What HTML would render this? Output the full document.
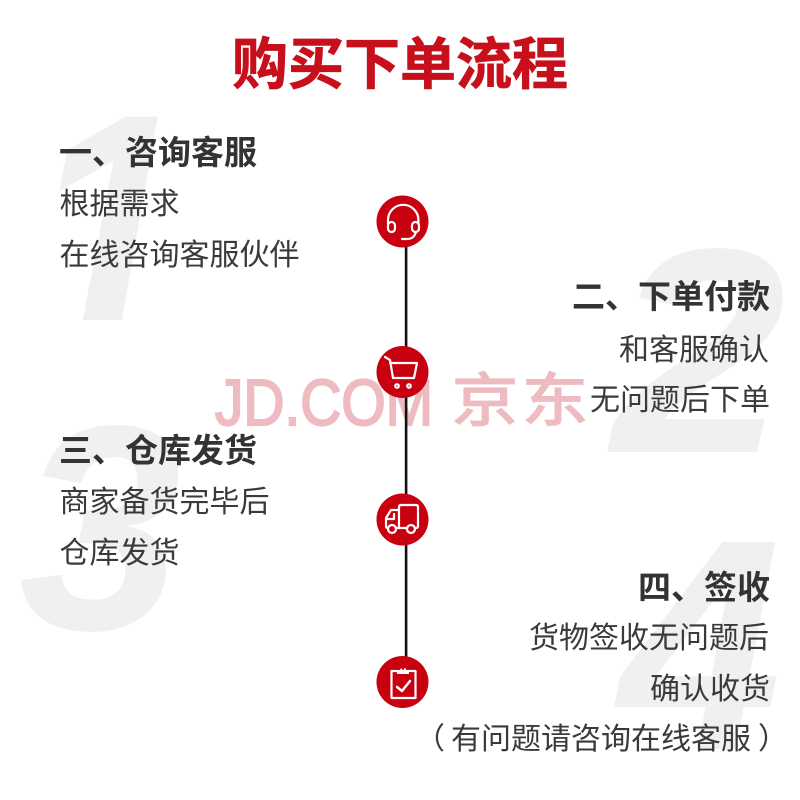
<!DOCTYPE html>
<html>
<head>
<meta charset="utf-8">
<style>
html,body{margin:0;padding:0;background:#fff}
svg{display:block}
text{font-family:"Liberation Sans","Noto Sans CJK SC",sans-serif}
.n{font-family:"Liberation Sans",sans-serif;font-weight:700;font-style:italic;font-size:292px;fill:#eef0f1}
.h{font-size:33px;font-weight:700;fill:#333}
.b{font-size:30px;fill:#3a3a3a}
.e{text-anchor:end}
.i{fill:none;stroke:#fff;stroke-width:2.2;stroke-linecap:round;stroke-linejoin:round}
</style>
</head>
<body>
<svg width="800" height="800" viewBox="0 0 800 800" xmlns="http://www.w3.org/2000/svg">
<defs>
<clipPath id="c1"><polygon points="83,320 91,274 20,274 20,100 175,100 158,115 122,320"/></clipPath>
</defs>
<rect width="800" height="800" fill="#fff"/>
<g clip-path="url(#c1)"><text class="n" x="31" y="320" stroke="#eef0f1" stroke-width="5">1</text></g>
<text class="n" transform="translate(612,452) scale(1.07,1)" x="0" y="0">2</text>
<text class="n" x="19" y="629">3</text>
<text class="n" transform="translate(619,749) scale(1,1.03)" x="0" y="0">4</text>

<text x="400" y="84" text-anchor="middle" font-size="56" font-weight="700" fill="#c8101c" stroke="#c8101c" stroke-width="0.8">购买下单流程</text>

<text x="215" y="425" font-size="65" fill="#eebcc0" stroke="#eebcc0" stroke-width="2.2" textLength="218" lengthAdjust="spacingAndGlyphs">JD.COM</text>
<text transform="translate(452,420.500) scale(1,0.87)" font-size="66" letter-spacing="4" fill="#eebcc0" stroke="#eebcc0" stroke-width="2">京东</text>

<rect x="404.800" y="245" width="2.600" height="415" fill="#111"/>
<circle cx="402.500" cy="221.500" r="26" fill="#c9000f"/>
<circle cx="402.500" cy="372" r="26" fill="#c9000f"/>
<circle cx="402.500" cy="519.500" r="26" fill="#c9000f"/>
<circle cx="402.500" cy="682" r="26" fill="#c9000f"/>

<path class="i" d="M388 224 V220 A15.200 15.200 0 0 1 418.400 220 V224"/>
<rect class="i" x="388" y="222" width="7" height="10" rx="3.500"/>
<rect class="i" x="412" y="222" width="7" height="10" rx="3.500"/>
<path class="i" d="M402 239 H407 Q414 239 416 232"/>

<path class="i" d="M385 357 L390 360 L393 378 H414 L417 363 H390"/>
<circle class="i" cx="397" cy="386" r="1.800"/>
<circle class="i" cx="409" cy="386" r="1.800"/>

<path class="i" d="M399 528 V507 Q399 505 401 505 H416 Q418 505 418 507 V526 Q418 528 416 528 H415"/>
<path class="i" d="M407 528 H396 M388 528 Q386 528 386 526 V518 L391 510 H399"/>
<path class="i" d="M394 514 V519 H387"/>
<circle class="i" cx="392" cy="529" r="4" style="fill:#c9000f"/>
<circle class="i" cx="411" cy="529" r="4" style="fill:#c9000f"/>

<path class="i" d="M397 671 H391.500 V698 H415.500 V671 H409"/>
<path d="M397 674 V670 H400 A3.500 3.500 0 0 1 406.500 670 H409 V674 Z" fill="#fff"/>
<circle cx="403" cy="668.500" r="1.300" fill="#c9000f"/>
<path class="i" style="stroke-width:2.500" d="M397 687 L402 691 L410 681"/>

<text class="h" x="59" y="164">一、咨询客服</text>
<text class="b" x="59.500" y="214">根据需求</text>
<text class="b" x="59.500" y="265">在线咨询客服伙伴</text>

<text class="h e" x="770" y="308">二、下单付款</text>
<text class="b e" x="769" y="360">和客服确认</text>
<text class="b e" x="770" y="410">无问题后下单</text>

<text class="h" x="59" y="462">三、仓库发货</text>
<text class="b" x="59.500" y="512">商家备货完毕后</text>
<text class="b" x="59.500" y="563">仓库发货</text>

<text class="h e" x="770" y="599">四、签收</text>
<text class="b e" x="769" y="648">货物签收无问题后</text>
<text class="b e" x="770" y="699">确认收货</text>
<text class="b" x="415" y="749">（</text>
<text class="b e" x="751" y="749">有问题请咨询在线客服</text>
<text class="b" x="758" y="749">）</text>
</svg>
</body>
</html>
